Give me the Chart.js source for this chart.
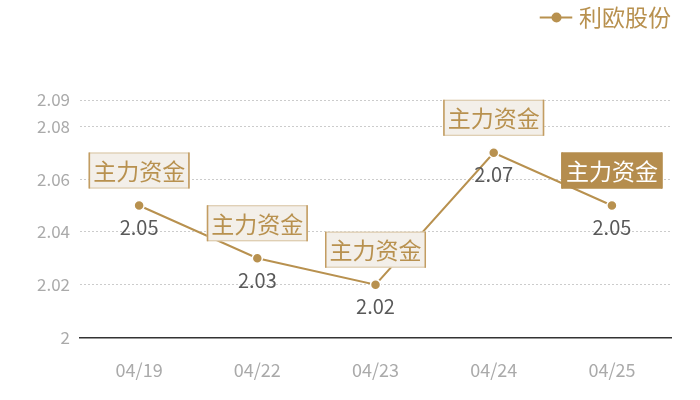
<!DOCTYPE html>
<html>
<head>
<meta charset="utf-8">
<script src="https://cdn.jsdelivr.net/npm/chart.js@4.4.0/dist/chart.umd.min.js"></script>
<style>
  html, body { margin: 0; padding: 0; background: #fff; }
</style>
</head>
<body>
<canvas id="lineCanvas" width="700" height="400"></canvas>
<script>
// Data
const dates = ["04/19", "04/22", "04/23", "04/24", "04/25"];
const prices = [2.05, 2.03, 2.02, 2.07, 2.05];
const yTicks = [2, 2.02, 2.04, 2.06, 2.08, 2.09];
const markText = "主力资金";
const seriesName = "利欧股份";

const gold = "#b8914f";
const font = "'Noto Sans CJK SC', 'Noto Sans', sans-serif";

// draws the value under each point and the boxed tag above it
const markPlugin = {
    id: "marks",
    afterDatasetsDraw(chart) {
        const ctx = chart.ctx;
        const meta = chart.getDatasetMeta(0);
        ctx.save();
        ctx.textAlign = "center";
        ctx.textBaseline = "middle";
        meta.data.forEach((pt, i) => {
            const x = pt.x, y = pt.y;
            ctx.font = "20px " + font;
            ctx.fillStyle = "#595959";
            ctx.fillText(String(prices[i]), x, y + 22);

            const last = i === prices.length - 1;
            const w = 101, h = 36;
            const bx = x - w / 2, by = y - 17 - h;
            ctx.fillStyle = last ? "#b58d4e" : "#f3efe9";
            ctx.fillRect(bx, by, w, h);
            ctx.strokeStyle = last ? "#b58d4e" : "#d8c4a2";
            ctx.lineWidth = 1;
            ctx.strokeRect(bx + 0.5, by + 0.5, w - 1, h - 1);
            ctx.strokeStyle = last ? "#b58d4e" : "#c39d62";
            ctx.lineWidth = 1.5;
            ctx.beginPath();
            ctx.moveTo(bx + 0.75, by); ctx.lineTo(bx + 0.75, by + h);
            ctx.moveTo(bx + w - 0.75, by); ctx.lineTo(bx + w - 0.75, by + h);
            ctx.stroke();
            ctx.font = "23px " + font;
            ctx.fillStyle = last ? "#ffffff" : "#b8914f";
            ctx.fillText(markText, x, by + h / 2 + 1);
        });
        ctx.restore();
    }
};

// legend marker dot, plus extra room under the legend
const legendDot = {
    id: "legendDot",
    beforeLayout(chart) {
        const lg = chart.legend;
        if (lg && !lg._patched) {
            const fit = lg.fit;
            lg.fit = function() {
                fit.call(this);
                this.height = 94;
            };
            lg._patched = true;
        }
    },
    afterDraw(chart) {
        const items = chart.legend.legendHitBoxes;
        if (!items || !items.length) return;
        const b = items[0];
        const ctx = chart.ctx;
        ctx.save();
        ctx.fillStyle = gold;
        ctx.beginPath();
        ctx.arc(b.left + 12, b.top + b.height / 2, 5, 0, Math.PI * 2);
        ctx.fill();
        ctx.restore();
    }
};

const lineChart = new Chart(document.getElementById("lineCanvas").getContext("2d"), {
    type: "line",
    data: {
        labels: dates,
        datasets: [{
            label: seriesName,
            data: prices,
            borderColor: gold,
            borderWidth: 2,
            backgroundColor: gold,
            pointBackgroundColor: gold,
            pointBorderColor: "#ffffff",
            pointBorderWidth: 1.5,
            pointRadius: 5,
            tension: 0
        }]
    },
    options: {
        responsive: false,
        animation: false,
        layout: { padding: { left: 27, right: 29, top: 6, bottom: -3 } },
        plugins: {
            tooltip: { enabled: false },
            legend: {
                display: true,
                align: "end",
                labels: {
                    color: gold,
                    font: { family: font, size: 23 },
                    usePointStyle: true,
                    pointStyle: "line",
                    boxWidth: 24,
                    padding: 0,
                    generateLabels(chart) {
                        return [{
                            text: seriesName,
                            fillStyle: gold,
                            strokeStyle: gold,
                            lineWidth: 2,
                            pointStyle: "line",
                            fontColor: gold
                        }];
                    }
                }
            }
        },
        scales: {
            x: {
                offset: true,
                grid: { display: false, drawTicks: false },
                border: { display: true, color: "#333333", width: 1.5 },
                ticks: {
                    color: "#aaaaaa",
                    font: { family: font, size: 18 },
                    padding: 22,
                    maxRotation: 0
                }
            },
            y: {
                min: 2,
                max: 2.09,
                afterBuildTicks(axis) {
                    axis.ticks = yTicks.map(v => ({ value: v }));
                },
                grid: {
                    color: "#cccccc",
                    drawTicks: false,
                    lineWidth: 1
                },
                border: { display: false, dash: [2, 2] },
                ticks: {
                    color: "#aaaaaa",
                    font: { family: font, size: 17 },
                    padding: 10,
                    callback: v => String(v)
                }
            }
        }
    },
    plugins: [markPlugin, legendDot]
});
</script>
</body>
</html>
